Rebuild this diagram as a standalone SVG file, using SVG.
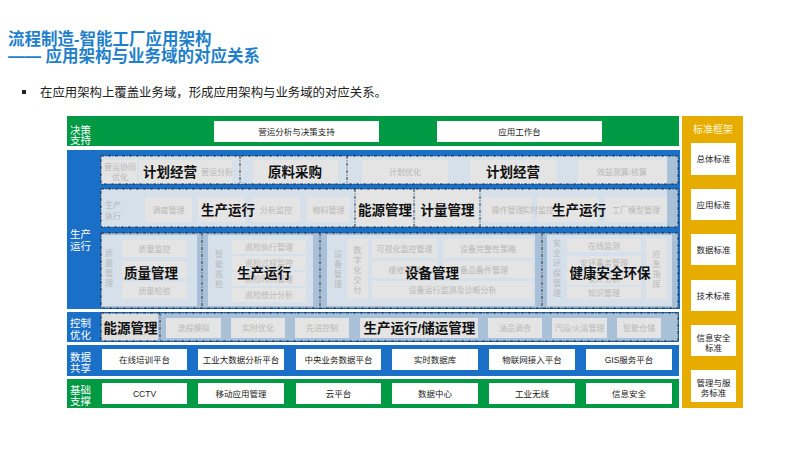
<svg xmlns="http://www.w3.org/2000/svg" width="800" height="450" viewBox="0 0 800 450">
<style>
text{font-family:"Liberation Sans","Noto Sans CJK SC",sans-serif}
.ttl{font-size:16.5px;font-weight:bold;fill:#1f7fcb}
.lbl{font-size:10.5px;fill:#fff}
.big{font-size:13.5px;font-weight:bold;fill:#111;text-anchor:middle}
.sm{font-size:8px;fill:#b8b8b8;text-anchor:middle}
.wt{font-size:8.5px;fill:#222;text-anchor:middle}
.wb{fill:#fff}
.cell{fill:#e4e4e4}
.cell2{fill:#dedede}
.lt{fill:#d5e0ea}
.dk{fill:#a9c0d9}
.dash{fill:none;stroke:#222;stroke-width:0.9;stroke-dasharray:3 1.5 1 1.5}
.green{fill:#009944}
.blue{fill:#1a6fc6}
</style>
<rect width="800" height="450" fill="#fff"/>
<g id="title">
<text class="ttl" x="8" y="45">流程制造-智能工厂应用架构</text>
<text class="ttl" x="8" y="62">—— 应用架构与业务域的对应关系</text>
<rect x="22" y="90" width="4" height="4" fill="#222"/>
<text x="40" y="97" font-size="12.4" fill="#222">在应用架构上覆盖业务域，形成应用架构与业务域的对应关系。</text>
</g>

<g id="decision">
<rect class="green" x="67" y="116" width="612" height="30"/>
<text class="lbl" x="70" y="133.5">决策</text>
<text class="lbl" x="70" y="144">支持</text>
<rect class="wb" x="214" y="121" width="165" height="21"/>
<text class="wt" x="296.5" y="134.5">营运分析与决策支持</text>
<rect class="wb" x="437" y="121" width="165" height="21"/>
<text class="wt" x="519.5" y="134.5">应用工作台</text>
</g>

<g id="production">
<rect class="blue" x="67" y="150" width="613" height="159"/>
<text class="lbl" x="70" y="238">生产</text>
<text class="lbl" x="70" y="250">运行</text>

<g id="rowA">
<rect class="lt" x="101" y="156" width="577" height="28"/>
<rect class="dk" x="667" y="156" width="11" height="28"/>
<rect class="cell" x="103" y="160" width="34" height="23"/>
<text class="sm" x="120" y="170">营运协同</text>
<text class="sm" x="120" y="180">优化</text>
<rect class="cell" x="139" y="160" width="93" height="23"/>
<text class="sm" x="217" y="175" text-anchor="end">营运分析</text>
<text class="big" x="170" y="177">计划经营</text>
<rect class="cell" x="253" y="160" width="85" height="23"/>
<text class="big" x="295" y="177">原料采购</text>
<rect class="cell" x="362" y="160" width="86" height="23"/>
<text class="sm" x="405" y="175">计划优化</text>
<rect class="cell" x="470" y="160" width="87" height="23"/>
<text class="big" x="513" y="177">计划经营</text>
<rect class="cell" x="578" y="160" width="89" height="23"/>
<text class="sm" x="622" y="175">效益测算/核算</text>
<rect class="dash" x="101" y="156" width="577" height="28"/>
<line class="dash" x1="240" y1="156" x2="240" y2="184"/>
<line class="dash" x1="347" y1="156" x2="347" y2="184"/>
</g>

<g id="rowB">
<rect class="lt" x="101" y="189" width="577" height="38"/>
<rect class="dk" x="667" y="189" width="11" height="38"/>
<text class="sm" x="113" y="208">生产</text>
<text class="sm" x="113" y="219">执行</text>
<rect class="cell" x="145" y="197" width="47" height="25"/>
<text class="sm" x="168.5" y="213">调度管理</text>
<rect class="cell" x="198" y="197" width="47" height="25"/>
<rect class="cell" x="252" y="197" width="48" height="25"/>
<text class="sm" x="276" y="213">分析监控</text>
<text class="big" x="228" y="215">生产运行</text>
<rect class="cell" x="307" y="197" width="43" height="25"/>
<text class="sm" x="328.5" y="213">物料管理</text>
<rect class="cell" x="356" y="190" width="57" height="36"/>
<text class="big" x="385" y="215">能源管理</text>
<rect class="cell" x="416" y="190" width="62" height="36"/>
<text class="big" x="447.5" y="215">计量管理</text>
<rect class="cell" x="483" y="197" width="49" height="25"/>
<text class="sm" x="507.5" y="213">操作管理</text>
<rect class="cell" x="537" y="197" width="61" height="25"/>
<text class="sm" x="538" y="213" text-anchor="start">实时监控</text>
<rect class="cell" x="605" y="197" width="62" height="25"/>
<text class="sm" x="636" y="213">工厂模型管理</text>
<text class="big" x="579" y="215">生产运行</text>
<rect class="dash" x="101" y="189" width="577" height="38"/>
<line class="dash" x1="355" y1="189" x2="355" y2="227"/>
<line class="dash" x1="414" y1="189" x2="414" y2="227"/>
<line class="dash" x1="480" y1="189" x2="480" y2="227"/>
</g>

<g id="rowC">
<rect class="dk" x="101" y="233" width="577" height="75"/>
<rect class="lt" x="102" y="235" width="95" height="71"/>
<rect class="lt" x="208" y="235" width="105" height="71"/>
<rect class="lt" x="327" y="235" width="208" height="71"/>
<rect class="lt" x="547" y="235" width="125" height="71"/>

<g id="quality">
<text class="sm" x="109"><tspan x="109" y="256">质</tspan><tspan x="109" y="266">量</tspan><tspan x="109" y="276">管</tspan><tspan x="109" y="286">理</tspan></text>
<rect class="cell" x="122" y="240" width="65" height="17"/>
<text class="sm" x="154.5" y="251.5">质量监控</text>
<rect class="cell" x="122" y="261" width="65" height="17"/>
<rect class="cell" x="122" y="282" width="65" height="17"/>
<text class="sm" x="154.5" y="293.5">质量检验</text>
<text class="big" x="151" y="278">质量管理</text>
</g>

<g id="inspect">
<text class="sm" x="219"><tspan x="219" y="257">智</tspan><tspan x="219" y="267">能</tspan><tspan x="219" y="277">巡</tspan><tspan x="219" y="287">检</tspan></text>
<rect class="cell" x="232" y="240" width="74" height="14"/>
<text class="sm" x="269" y="250">巡检执行管理</text>
<rect class="cell" x="232" y="256" width="74" height="14"/>
<text class="sm" x="269" y="266">巡检过程监控</text>
<rect class="cell" x="232" y="272" width="74" height="14"/>
<text class="sm" x="269" y="282">巡检时间管理</text>
<rect class="cell" x="232" y="288" width="74" height="14"/>
<text class="sm" x="269" y="298">巡检统计分析</text>
<text class="big" x="264" y="278">生产运行</text>
</g>

<g id="equipment">
<text class="sm" x="338"><tspan x="338" y="257">设</tspan><tspan x="338" y="267">备</tspan><tspan x="338" y="277">管</tspan><tspan x="338" y="287">理</tspan></text>
<rect class="cell" x="347" y="239" width="21" height="60"/>
<text class="sm" x="357.5"><tspan x="357.5" y="253">数</tspan><tspan x="357.5" y="263">字</tspan><tspan x="357.5" y="273">化</tspan><tspan x="357.5" y="283">交</tspan><tspan x="357.5" y="293">付</tspan></text>
<rect class="cell" x="372" y="239" width="65" height="19"/>
<text class="sm" x="404.5" y="251.5">可视化监控管理</text>
<rect class="cell" x="443" y="239" width="90" height="19"/>
<text class="sm" x="488" y="251.5">设备完整性策略</text>
<rect class="cell" x="372" y="261" width="65" height="17"/>
<text class="sm" x="404.5" y="272.5">维修管理</text>
<rect class="cell" x="443" y="261" width="90" height="17"/>
<text class="sm" x="484" y="272.5">备品备件管理</text>
<rect class="cell" x="372" y="281" width="161" height="18"/>
<text class="sm" x="452.5" y="293">设备运行监测及诊断分析</text>
<text class="big" x="432" y="278">设备管理</text>
</g>

<g id="hse">
<text class="sm" x="557"><tspan x="557" y="246">安</tspan><tspan x="557" y="256">全</tspan><tspan x="557" y="266">环</tspan><tspan x="557" y="276">保</tspan><tspan x="557" y="286">管</tspan><tspan x="557" y="296">理</tspan></text>
<rect class="cell" x="567" y="239" width="74" height="13"/>
<text class="sm" x="604" y="248.5">在线监测</text>
<rect class="cell" x="567" y="256" width="74" height="14"/>
<text class="sm" x="604" y="266">安环事务管理</text>
<rect class="cell" x="567" y="272" width="74" height="13"/>
<text class="sm" x="604" y="281.5">安环分析</text>
<rect class="cell" x="567" y="287" width="74" height="12"/>
<text class="sm" x="604" y="296">知识管理</text>
<rect class="cell" x="646" y="239" width="21" height="60"/>
<text class="sm" x="656.5"><tspan x="656.5" y="257">应</tspan><tspan x="656.5" y="267">急</tspan><tspan x="656.5" y="277">指</tspan><tspan x="656.5" y="287">挥</tspan></text>
<text class="big" x="610" y="278">健康安全环保</text>
</g>
<rect class="dash" x="101" y="233" width="577" height="75"/>
<line class="dash" x1="202" y1="233" x2="202" y2="308"/>
<line class="dash" x1="320" y1="233" x2="320" y2="308"/>
<line class="dash" x1="542" y1="233" x2="542" y2="308"/>
</g>
</g>

<g id="control">
<rect class="blue" x="67" y="312" width="612" height="30"/>
<text class="lbl" x="70" y="327">控制</text>
<text class="lbl" x="70" y="339">优化</text>
<rect class="dk" x="101" y="313" width="577" height="28"/>
<rect class="cell2" x="102" y="314" width="56" height="26"/>
<text class="big" x="130.5" y="332.5">能源管理</text>
<rect class="cell" x="166" y="318" width="55" height="20"/>
<text class="sm" x="193.5" y="331">流程模拟</text>
<rect class="cell" x="231" y="318" width="54" height="20"/>
<text class="sm" x="258" y="331">实时优化</text>
<rect class="cell" x="295" y="318" width="54" height="20"/>
<text class="sm" x="322" y="331">先进控制</text>
<rect class="cell" x="360" y="318" width="118" height="20"/>
<text class="big" x="419.5" y="332.5">生产运行/储运管理</text>
<rect class="cell" x="488" y="318" width="54" height="20"/>
<text class="sm" x="515" y="331">油品调合</text>
<rect class="cell" x="552" y="318" width="55" height="20"/>
<text class="sm" x="579.5" y="331">汽运/火运管理</text>
<rect class="cell" x="617" y="318" width="44" height="20"/>
<text class="sm" x="639" y="331">智能仓储</text>
<rect class="dash" x="101" y="313" width="577" height="28"/>
<line class="dash" x1="160" y1="313" x2="160" y2="341"/>
</g>

<g id="datashare">
<rect class="blue" x="67" y="345" width="612" height="31"/>
<text class="lbl" x="70" y="361">数据</text>
<text class="lbl" x="70" y="372">共享</text>
<rect class="wb" x="102" y="349" width="85" height="21"/>
<text class="wt" x="144.5" y="362.5">在线培训平台</text>
<rect class="wb" x="198" y="349" width="86" height="21"/>
<text class="wt" x="241" y="362.5">工业大数据分析平台</text>
<rect class="wb" x="296" y="349" width="85" height="21"/>
<text class="wt" x="338.5" y="362.5">中央业务数据平台</text>
<rect class="wb" x="392" y="349" width="86" height="21"/>
<text class="wt" x="435" y="362.5">实时数据库</text>
<rect class="wb" x="489" y="349" width="86" height="21"/>
<text class="wt" x="532" y="362.5">物联网接入平台</text>
<rect class="wb" x="586" y="349" width="86" height="21"/>
<text class="wt" x="629" y="362.5">GIS服务平台</text>
</g>

<g id="base">
<rect class="green" x="67" y="379" width="612" height="29"/>
<text class="lbl" x="70" y="394">基础</text>
<text class="lbl" x="70" y="405">支撑</text>
<rect class="wb" x="102" y="383" width="85" height="21"/>
<text class="wt" x="144.5" y="396.5">CCTV</text>
<rect class="wb" x="198" y="383" width="86" height="21"/>
<text class="wt" x="241" y="396.5">移动应用管理</text>
<rect class="wb" x="296" y="383" width="85" height="21"/>
<text class="wt" x="338.5" y="396.5">云平台</text>
<rect class="wb" x="392" y="383" width="86" height="21"/>
<text class="wt" x="435" y="396.5">数据中心</text>
<rect class="wb" x="489" y="383" width="86" height="21"/>
<text class="wt" x="532" y="396.5">工业无线</text>
<rect class="wb" x="586" y="383" width="86" height="21"/>
<text class="wt" x="629" y="396.5">信息安全</text>
</g>

<g id="standards">
<rect x="682" y="116" width="61" height="292" fill="#e6ad00"/>
<text x="713" y="133" font-size="10" fill="#fff6d8" text-anchor="middle">标准框架</text>
<rect class="wb" x="691" y="143" width="45" height="32"/>
<text class="wt" x="713.5" y="162">总体标准</text>
<rect class="wb" x="691" y="189" width="45" height="31"/>
<text class="wt" x="713.5" y="207.5">应用标准</text>
<rect class="wb" x="691" y="234" width="45" height="31"/>
<text class="wt" x="713.5" y="252.5">数据标准</text>
<rect class="wb" x="691" y="280" width="45" height="31"/>
<text class="wt" x="713.5" y="298.5">技术标准</text>
<rect class="wb" x="691" y="325" width="45" height="31"/>
<text class="wt" x="713.5" y="340.5">信息安全</text>
<text class="wt" x="713.5" y="350.5">标准</text>
<rect class="wb" x="691" y="370" width="45" height="32"/>
<text class="wt" x="713.5" y="385.5">管理与服</text>
<text class="wt" x="713.5" y="395.5">务标准</text>
</g>
<g id="connectors"></g>
</svg>
